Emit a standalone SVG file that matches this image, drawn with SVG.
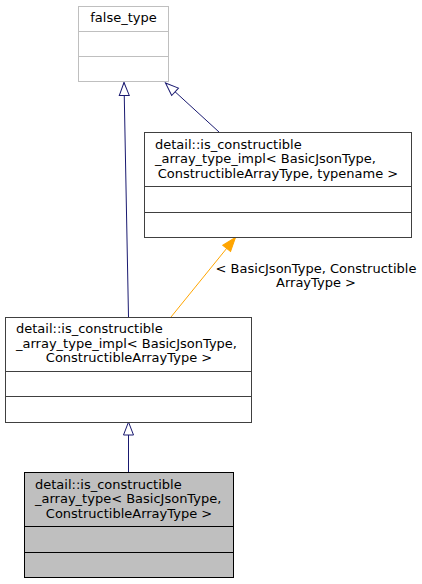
<svg xmlns="http://www.w3.org/2000/svg" width="422" height="584" viewBox="0 0 422 584">
<style>
text{font-family:"DejaVu Sans",sans-serif;font-size:13px;fill:#000}
.box{fill:#fff;stroke:#404040;stroke-width:1}
.gray{fill:#fff;stroke:#bfbfbf;stroke-width:1}
.cur{fill:#bfbfbf;stroke:#000;stroke-width:1}
.sep{stroke:#404040;stroke-width:1}
.sepg{stroke:#bfbfbf;stroke-width:1}
.sepc{stroke:#000;stroke-width:1}
.m{text-anchor:middle}
.inh{fill:none;stroke:#191970;stroke-width:1}
.tpl{fill:none;stroke:#ffa500;stroke-width:1}
</style>
<defs>
<marker id="hollow" markerWidth="16" markerHeight="14" viewBox="0 0 16 14" refX="14.5" refY="7" orient="auto" markerUnits="userSpaceOnUse">
<path d="M1.5,2 L14.5,7 L1.5,12 Z" fill="#fff" stroke="#191970" stroke-width="1"/>
</marker>
<marker id="filled" markerWidth="16" markerHeight="14" viewBox="0 0 16 14" refX="15" refY="7" orient="auto" markerUnits="userSpaceOnUse">
<path d="M1,2 L15,7 L1,12 Z" fill="#ffa500" stroke="#ffa500" stroke-width="1"/>
</marker>
</defs>
<g id="edges">
<path class="inh" d="M128.5,317 L124,82.5" marker-end="url(#hollow)"/>
<path class="inh" d="M219,132 L165.5,83" marker-end="url(#hollow)"/>
<path class="tpl" d="M171,317 L235.5,237.5" marker-end="url(#filled)"/>
<text class="m" x="316" y="273">&lt; BasicJsonType, Constructible</text>
<text class="m" x="316" y="287">ArrayType &gt;</text>
<path class="inh" d="M128.5,472 L128.5,422" marker-end="url(#hollow)"/>
</g>
<g id="false_type">
<rect class="gray" x="78.5" y="6.5" width="90" height="75"/>
<line class="sepg" x1="78.5" y1="31.5" x2="168.5" y2="31.5"/>
<line class="sepg" x1="78.5" y1="56.5" x2="168.5" y2="56.5"/>
<text class="m" x="123.5" y="22">false_type</text>
</g>
<g id="impl_typename">
<rect class="box" x="144.5" y="132.5" width="267" height="105"/>
<line class="sep" x1="144.5" y1="186.5" x2="411.5" y2="186.5"/>
<line class="sep" x1="144.5" y1="212.5" x2="411.5" y2="212.5"/>
<text x="155" y="148.5">detail::is_constructible</text>
<text x="155" y="163">_array_type_impl&lt; BasicJsonType,</text>
<text class="m" x="278" y="177.5">ConstructibleArrayType, typename &gt;</text>
</g>
<g id="impl">
<rect class="box" x="5.5" y="317.5" width="246" height="105"/>
<line class="sep" x1="5.5" y1="371.5" x2="251.5" y2="371.5"/>
<line class="sep" x1="5.5" y1="396.5" x2="251.5" y2="396.5"/>
<text x="16" y="333">detail::is_constructible</text>
<text x="16" y="347.5">_array_type_impl&lt; BasicJsonType,</text>
<text class="m" x="129" y="362">ConstructibleArrayType &gt;</text>
</g>
<g id="is_constructible_array_type">
<rect class="cur" x="24.5" y="472.5" width="209" height="105"/>
<line class="sepc" x1="24.5" y1="526.5" x2="233.5" y2="526.5"/>
<line class="sepc" x1="24.5" y1="552.5" x2="233.5" y2="552.5"/>
<text x="35" y="488.5">detail::is_constructible</text>
<text x="35" y="503">_array_type&lt; BasicJsonType,</text>
<text class="m" x="129" y="517.5">ConstructibleArrayType &gt;</text>
</g>
</svg>
